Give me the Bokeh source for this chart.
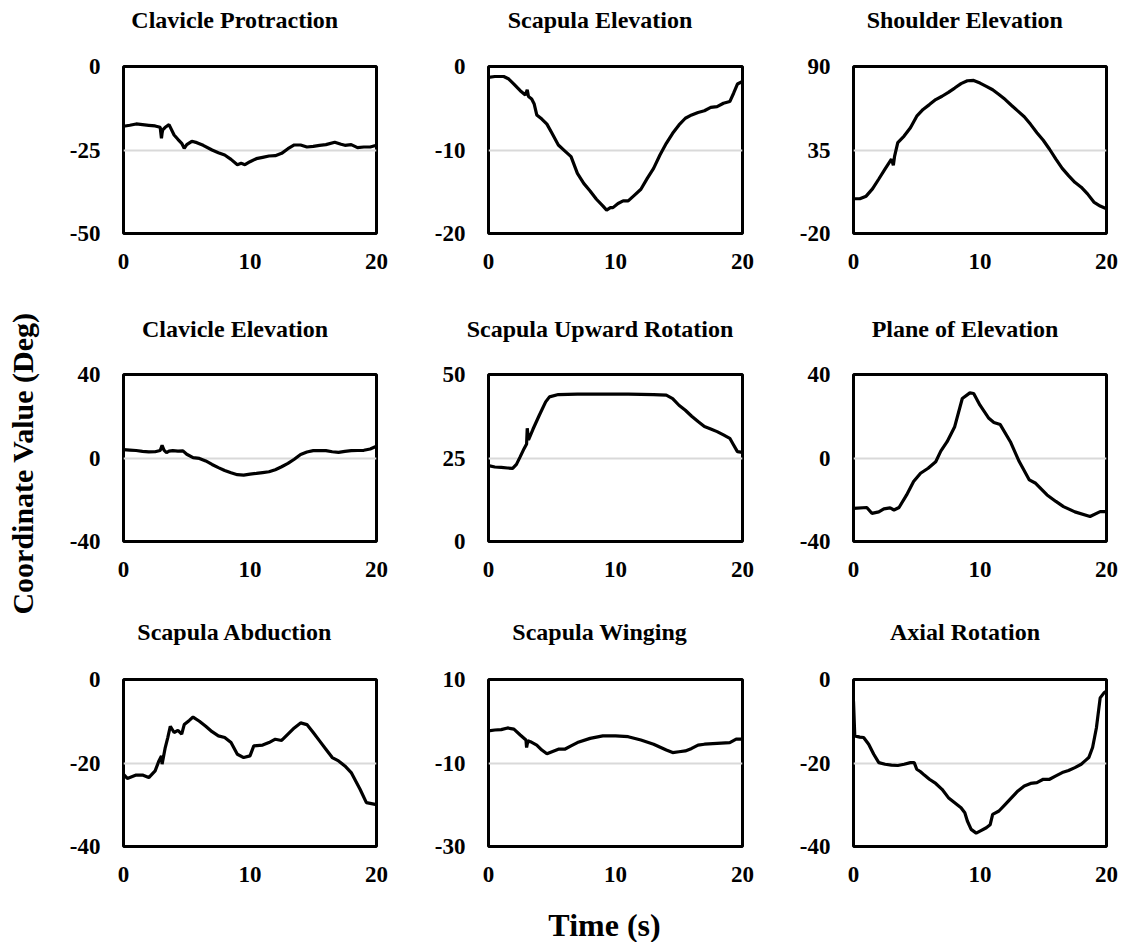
import math
from bokeh.plotting import figure
from bokeh.layouts import column, row
from bokeh.models import FixedTicker, Range1d, Label, Title
from bokeh.embed import file_html
from bokeh.resources import INLINE

# ---------------- data ----------------
panel_titles = ["Clavicle Protraction", "Scapula Elevation", "Shoulder Elevation",
                "Clavicle Elevation", "Scapula Upward Rotation", "Plane of Elevation",
                "Scapula Abduction", "Scapula Winging", "Axial Rotation"]
y_ticks = [[-50, -25, 0], [-20, -10, 0], [-20, 35, 90],
           [-40, 0, 40], [0, 25, 50], [-40, 0, 40],
           [-40, -20, 0], [-30, -10, 10], [-40, -20, 0]]
x_ticks = [0, 10, 20]
y_axis_title = "Coordinate Value (Deg)"
x_axis_title = "Time (s)"

t_clav_prot = [0, 0.5, 1, 1.5, 2, 2.5, 2.9, 3.0, 3.05, 3.1, 3.3, 3.6, 4.0, 4.3, 4.6, 4.8, 5.0, 5.4, 5.8, 6.3,
               7.0, 7.5, 8.0, 8.5, 9.0, 9.3, 9.6, 10.0, 10.5, 11.0, 11.5, 12.0, 12.5, 13.0, 13.5, 14.0, 14.5,
               15.0, 15.5, 16.0, 16.7, 17.2, 17.5, 18.0, 18.5, 19.0, 19.5, 20]
clav_prot = [-17.9, -17.6, -17.2, -17.4, -17.6, -17.8, -18.2, -21.5, -20.0, -19.0, -18.2, -17.4, -20.5, -21.8,
             -23.0, -24.5, -23.4, -22.4, -22.8, -23.6, -25.0, -25.8, -26.5, -27.8, -29.4, -29.0, -29.4, -28.5,
             -27.6, -27.2, -26.8, -26.7, -26.0, -24.6, -23.5, -23.5, -24.1, -23.9, -23.6, -23.4, -22.7, -23.3,
             -23.6, -23.4, -24.3, -24.1, -24.1, -23.6]

t_scap_elev = [0, 0.5, 1.2, 1.6, 2.0, 2.5, 2.9, 3.05, 3.15, 3.4, 3.6, 3.8, 4.2, 4.6, 5.0, 5.5, 6.0, 6.5, 7.0,
               7.5, 8.0, 8.5, 9.0, 9.3, 9.6, 9.8, 10.2, 10.6, 11.0, 11.5, 12.0, 12.5, 13.0, 13.5, 14.0, 14.5,
               15.0, 15.5, 16.0, 16.5, 17.0, 17.5, 18.0, 18.5, 19.0, 19.3, 19.6, 20]
scap_elev = [-1.3, -1.2, -1.2, -1.5, -2.1, -2.9, -3.4, -2.8, -3.6, -3.9, -4.5, -5.8, -6.3, -6.9, -8.0, -9.4,
             -10.1, -10.8, -12.8, -14.0, -14.9, -15.9, -16.7, -17.2, -16.9, -16.9, -16.4, -16.1, -16.1, -15.4,
             -14.7, -13.4, -12.2, -10.6, -9.2, -8.0, -7.0, -6.2, -5.8, -5.5, -5.3, -4.9, -4.8, -4.4, -4.2,
             -3.2, -2.1, -1.8]

t_shld_elev = [0, 0.5, 1.0, 1.5, 2.0, 2.5, 3.0, 3.15, 3.25, 3.5, 4.0, 4.5, 5.0, 5.5, 6.0, 6.5, 7.0, 7.5, 8.0,
               8.5, 9.0, 9.5, 10.0, 10.5, 11.0, 11.5, 12.0, 12.5, 13.0, 13.5, 14.0, 14.5, 15.0, 15.5, 16.0,
               16.5, 17.0, 17.5, 18.0, 18.5, 19.0, 19.5, 20]
shld_elev = [2.9, 2.9, 4.6, 9.4, 15.9, 22.5, 29.0, 25.0, 31.0, 39.9, 44.2, 49.7, 57.3, 61.7, 64.9, 68.2, 70.4,
             73.0, 75.8, 78.7, 80.6, 80.8, 79.1, 76.9, 74.7, 71.5, 68.2, 64.3, 60.6, 56.9, 51.9, 46.4, 41.4,
             35.5, 29.0, 22.9, 18.1, 13.7, 10.5, 6.1, 0.7, -1.9, -3.7]

t_clav_elev = [0, 0.5, 1.0, 1.5, 2.0, 2.5, 2.9, 3.05, 3.2, 3.4, 3.6, 3.9, 4.3, 4.7, 5.0, 5.5, 6.0, 6.5, 7.0,
               7.5, 8.0, 8.5, 9.0, 9.5, 10.0, 10.5, 11.0, 11.5, 12.0, 12.5, 13.0, 13.5, 14.0, 14.5, 15.0, 15.5,
               16.0, 16.5, 17.0, 17.5, 18.0, 18.5, 19.0, 19.5, 20]
clav_elev = [4.0, 3.8, 3.6, 3.2, 2.9, 3.0, 3.6, 6.1, 3.8, 2.6, 3.3, 3.5, 3.3, 3.4, 1.8, 0.2, -0.2, -1.4, -3.1,
             -4.6, -6.0, -7.1, -8.0, -8.2, -7.7, -7.4, -7.0, -6.6, -5.6, -4.2, -2.6, -0.6, 1.7, 2.9, 3.5, 3.6,
             3.5, 3.0, 2.7, 3.2, 3.5, 3.6, 3.7, 4.3, 5.6]

t_scap_uprot = [0, 0.5, 1.0, 1.5, 1.9, 2.2, 2.5, 2.8, 3.0, 3.05, 3.15, 3.5, 4.0, 4.5, 4.8, 5.5, 7.0, 9.0, 11.0,
                13.0, 14.0, 14.5, 15.0, 15.5, 16.0, 16.5, 17.0, 17.5, 18.0, 18.5, 19.0, 19.3, 19.6, 20]
scap_uprot = [22.7, 22.3, 22.2, 22.0, 21.9, 23.1, 25.4, 27.8, 29.2, 33.9, 30.4, 33.6, 37.8, 41.8, 43.3, 44.0,
              44.1, 44.1, 44.1, 44.0, 43.8, 42.8, 40.8, 39.3, 37.5, 35.9, 34.4, 33.7, 32.9, 31.9, 30.9, 28.9,
              26.9, 26.7]

t_plane_elev = [0, 1.05, 1.45, 2.0, 2.4, 2.9, 3.2, 3.6, 4.2, 4.75, 5.3, 5.9, 6.5, 6.9, 7.4, 8.0, 8.6, 9.2, 9.5,
                10.0, 10.7, 11.1, 11.6, 12.4, 13.1, 13.9, 14.4, 15.3, 16.0, 16.6, 17.5, 18.7, 19.5, 20]
plane_elev = [-24.1, -23.7, -26.5, -25.8, -24.4, -23.9, -24.9, -23.7, -17.7, -11.3, -7.3, -4.9, -1.8, 3.3, 7.8,
              15.0, 28.5, 31.2, 30.9, 25.3, 19.0, 17.0, 16.0, 7.8, -1.7, -10.5, -12.1, -17.7, -20.8, -23.3,
              -25.8, -28.0, -25.7, -25.7]

t_scap_abd = [0, 0.3, 1.0, 1.5, 2.0, 2.5, 2.8, 3.0, 3.05, 3.3, 3.5, 3.7, 4.0, 4.3, 4.6, 4.8, 5.2, 5.5, 6.0, 6.5,
              7.0, 7.5, 8.0, 8.5, 9.0, 9.5, 10.0, 10.3, 11.0, 11.5, 12.0, 12.5, 13.0, 13.5, 14.0, 14.5, 15.0,
              15.5, 16.0, 16.5, 17.0, 17.5, 18.0, 18.7, 19.2, 19.9, 20]
scap_abd = [-22.7, -23.7, -22.9, -22.9, -23.5, -21.9, -19.5, -18.3, -20.3, -16.3, -13.9, -11.2, -12.7, -12.2,
            -13.1, -10.8, -9.8, -9.0, -10.0, -11.2, -12.5, -13.5, -13.9, -15.1, -17.9, -18.7, -18.3, -15.9,
            -15.7, -15.1, -14.3, -14.6, -13.1, -11.6, -10.4, -10.8, -12.7, -14.7, -16.7, -18.7, -19.5, -20.7,
            -22.3, -26.3, -29.5, -29.9, -29.9]

t_scap_wing = [0, 0.5, 1.0, 1.5, 2.0, 2.5, 2.95, 3.0, 3.1, 3.3, 3.8, 4.2, 4.6, 5.0, 5.5, 6.0, 6.5, 7.0, 8.0, 9.0,
               10.0, 11.0, 12.0, 13.0, 14.0, 14.5, 15.0, 15.5, 16.0, 16.5, 17.0, 18.0, 19.0, 19.5, 20]
scap_wing = [-2.3, -2.1, -2.0, -1.6, -1.9, -3.3, -4.5, -6.3, -4.7, -4.9, -5.7, -6.9, -7.8, -7.3, -6.7, -6.7,
             -5.9, -5.1, -4.1, -3.5, -3.5, -3.7, -4.5, -5.5, -6.9, -7.5, -7.3, -7.1, -6.5, -5.7, -5.5, -5.3,
             -5.1, -4.3, -4.3]

t_axial_rot = [0, 0.1, 0.5, 0.8, 1.2, 1.6, 2.0, 2.5, 3.0, 3.5, 4.0, 4.5, 4.8, 5.0, 5.3, 5.6, 6.0, 6.5, 7.0, 7.5,
               8.0, 8.5, 8.8, 9.0, 9.3, 9.7, 10.0, 10.5, 10.8, 11.0, 11.5, 12.0, 12.5, 13.0, 13.5, 14.0, 14.5,
               15.0, 15.5, 16.0, 16.5, 17.0, 17.5, 18.0, 18.3, 18.6, 18.9, 19.2, 19.5, 19.8, 20]
axial_rot = [-5.2, -13.5, -13.8, -13.9, -15.5, -17.9, -19.9, -20.3, -20.5, -20.6, -20.3, -19.9, -19.9, -21.5,
             -22.1, -22.9, -23.9, -24.9, -26.3, -28.3, -29.5, -30.7, -31.9, -33.9, -35.9, -36.8, -36.3, -35.5,
             -34.8, -32.3, -31.5, -29.9, -28.3, -26.7, -25.5, -24.9, -24.7, -23.9, -23.9, -23.1, -22.3, -21.8,
             -21.1, -20.3, -19.5, -18.7, -16.3, -11.6, -4.4, -3.2, -2.8]

series_t = [t_clav_prot, t_scap_elev, t_shld_elev, t_clav_elev, t_scap_uprot, t_plane_elev,
            t_scap_abd, t_scap_wing, t_axial_rot]
series_v = [clav_prot, scap_elev, shld_elev, clav_elev, scap_uprot, plane_elev,
            scap_abd, scap_wing, axial_rot]

FONT = "Liberation Serif"
TITLE_PX = 24

# Times/Liberation Serif Bold advance widths (per 1000 em) used to left-place titles
CHAR_W = {' ': 250, 'A': 722, 'C': 722, 'D': 722, 'E': 667, 'P': 611, 'R': 722, 'S': 556, 'U': 722,
          'W': 1000, 'a': 500, 'b': 556, 'c': 444, 'd': 556, 'e': 444, 'f': 333, 'g': 500, 'h': 556,
          'i': 278, 'l': 278, 'n': 556, 'o': 500, 'p': 556, 'r': 444, 's': 389, 't': 333, 'u': 556,
          'v': 500, 'w': 722, 'x': 500}


def text_width(s, px):
    return sum(CHAR_W.get(ch, 500) for ch in s) * px / 1000.0


# ---------------- geometry (px) ----------------
LEFT_W = 50
TOTAL_H = 942
HEAD_H = 52                       # title strip above each panel
BOTTOM_H = 42                     # strip holding the x-axis title
col_left = [73, 96, 95]
col_frame = [253, 254, 253]
col_right = [16, 16, 15]
row_top = [14, 16, 15]            # panel border above the frame (below the title strip)
row_frame = [167, 167, 167]
row_bottom = [73, 71, 54]
head_standoff = [12, 19, 13]      # puts title text top at standoff/2 from strip top
TITLE_CENTRE = 111.5              # title centre measured from the frame's left edge


def blank(width, height):
    f = figure(width=width, height=height, output_backend="svg", toolbar_location=None,
               x_range=Range1d(0, width), y_range=Range1d(0, height),
               x_axis_type=None, y_axis_type=None, min_border=0)
    f.grid.visible = False
    f.outline_line_color = None
    f.background_fill_color = "white"
    f.border_fill_color = "white"
    return f


def make_cell(i):
    r, c = divmod(i, 3)
    w = col_left[c] + col_frame[c] + col_right[c]
    h = row_top[r] + row_frame[r] + row_bottom[r]
    lo, mid, hi = y_ticks[i]

    head = figure(width=w, height=HEAD_H, output_backend="svg", toolbar_location=None,
                  x_range=Range1d(0, 1), y_range=Range1d(0, 1),
                  x_axis_type=None, y_axis_type=None,
                  min_border_left=col_left[c], min_border_right=col_right[c],
                  min_border_top=0, min_border_bottom=0)
    head.grid.visible = False
    head.outline_line_color = None
    head.background_fill_color = "white"
    head.border_fill_color = "white"
    head.title = Title(text=panel_titles[i], align="left", vertical_align="top",
                       offset=TITLE_CENTRE - text_width(panel_titles[i], TITLE_PX) / 2,
                       standoff=head_standoff[r],
                       text_font=FONT, text_font_style="bold", text_font_size=f"{TITLE_PX}px",
                       text_color="black")

    p = figure(width=w, height=h, output_backend="svg", toolbar_location=None,
               x_range=Range1d(0, 20), y_range=Range1d(lo, hi),
               min_border_left=col_left[c], min_border_right=col_right[c],
               min_border_top=row_top[r], min_border_bottom=row_bottom[r])
    p.line(series_t[i], series_v[i], line_color="black", line_width=3.2)
    p.outline_line_color = "black"
    p.outline_line_width = 3
    p.outline_line_alpha = 1
    p.background_fill_color = "white"
    p.border_fill_color = "white"
    p.xgrid.visible = False
    p.ygrid.grid_line_color = "#d9d9d9"
    p.ygrid.grid_line_width = 2
    p.xaxis.ticker = FixedTicker(ticks=x_ticks)
    p.yaxis.ticker = FixedTicker(ticks=y_ticks[i])
    p.yaxis.major_label_overrides = {v: str(v) for v in y_ticks[i]}
    p.xaxis.major_label_overrides = {v: str(v) for v in x_ticks}
    for ax in (p.xaxis[0], p.yaxis[0]):
        ax.axis_line_color = None
        ax.major_tick_line_color = None
        ax.minor_tick_line_color = None
        ax.major_label_text_font = FONT
        ax.major_label_text_font_style = "bold"
        ax.major_label_text_font_size = "23px"
        ax.major_label_text_color = "black"
    p.xaxis.major_label_standoff = 14
    p.yaxis.major_label_standoff = 17
    return column(head, p)


cells = [make_cell(i) for i in range(9)]

left = blank(LEFT_W, TOTAL_H)
left.add_layout(Label(x=22, y=TOTAL_H - 463, text=y_axis_title, angle=math.pi / 2,
                      text_align="center", text_baseline="alphabetic",
                      text_font=FONT, text_font_style="bold", text_font_size="30px",
                      text_color="black"))

grid_w = sum(col_left) + sum(col_frame) + sum(col_right)
bottom = blank(grid_w, BOTTOM_H)
x_title_centre = col_left[0] + col_frame[0] + col_right[0] + col_left[1] + col_frame[1] / 2 - 11
bottom.add_layout(Label(x=x_title_centre, y=18, text=x_axis_title,
                        text_align="center", text_baseline="alphabetic",
                        text_font=FONT, text_font_style="bold", text_font_size="32px",
                        text_color="black"))

grid = column(row(*cells[0:3]), row(*cells[3:6]), row(*cells[6:9]), bottom)
layout = row(left, grid)

with open("out.html", "w") as f:
    f.write(file_html(layout, INLINE, title="Coordinate values"))
